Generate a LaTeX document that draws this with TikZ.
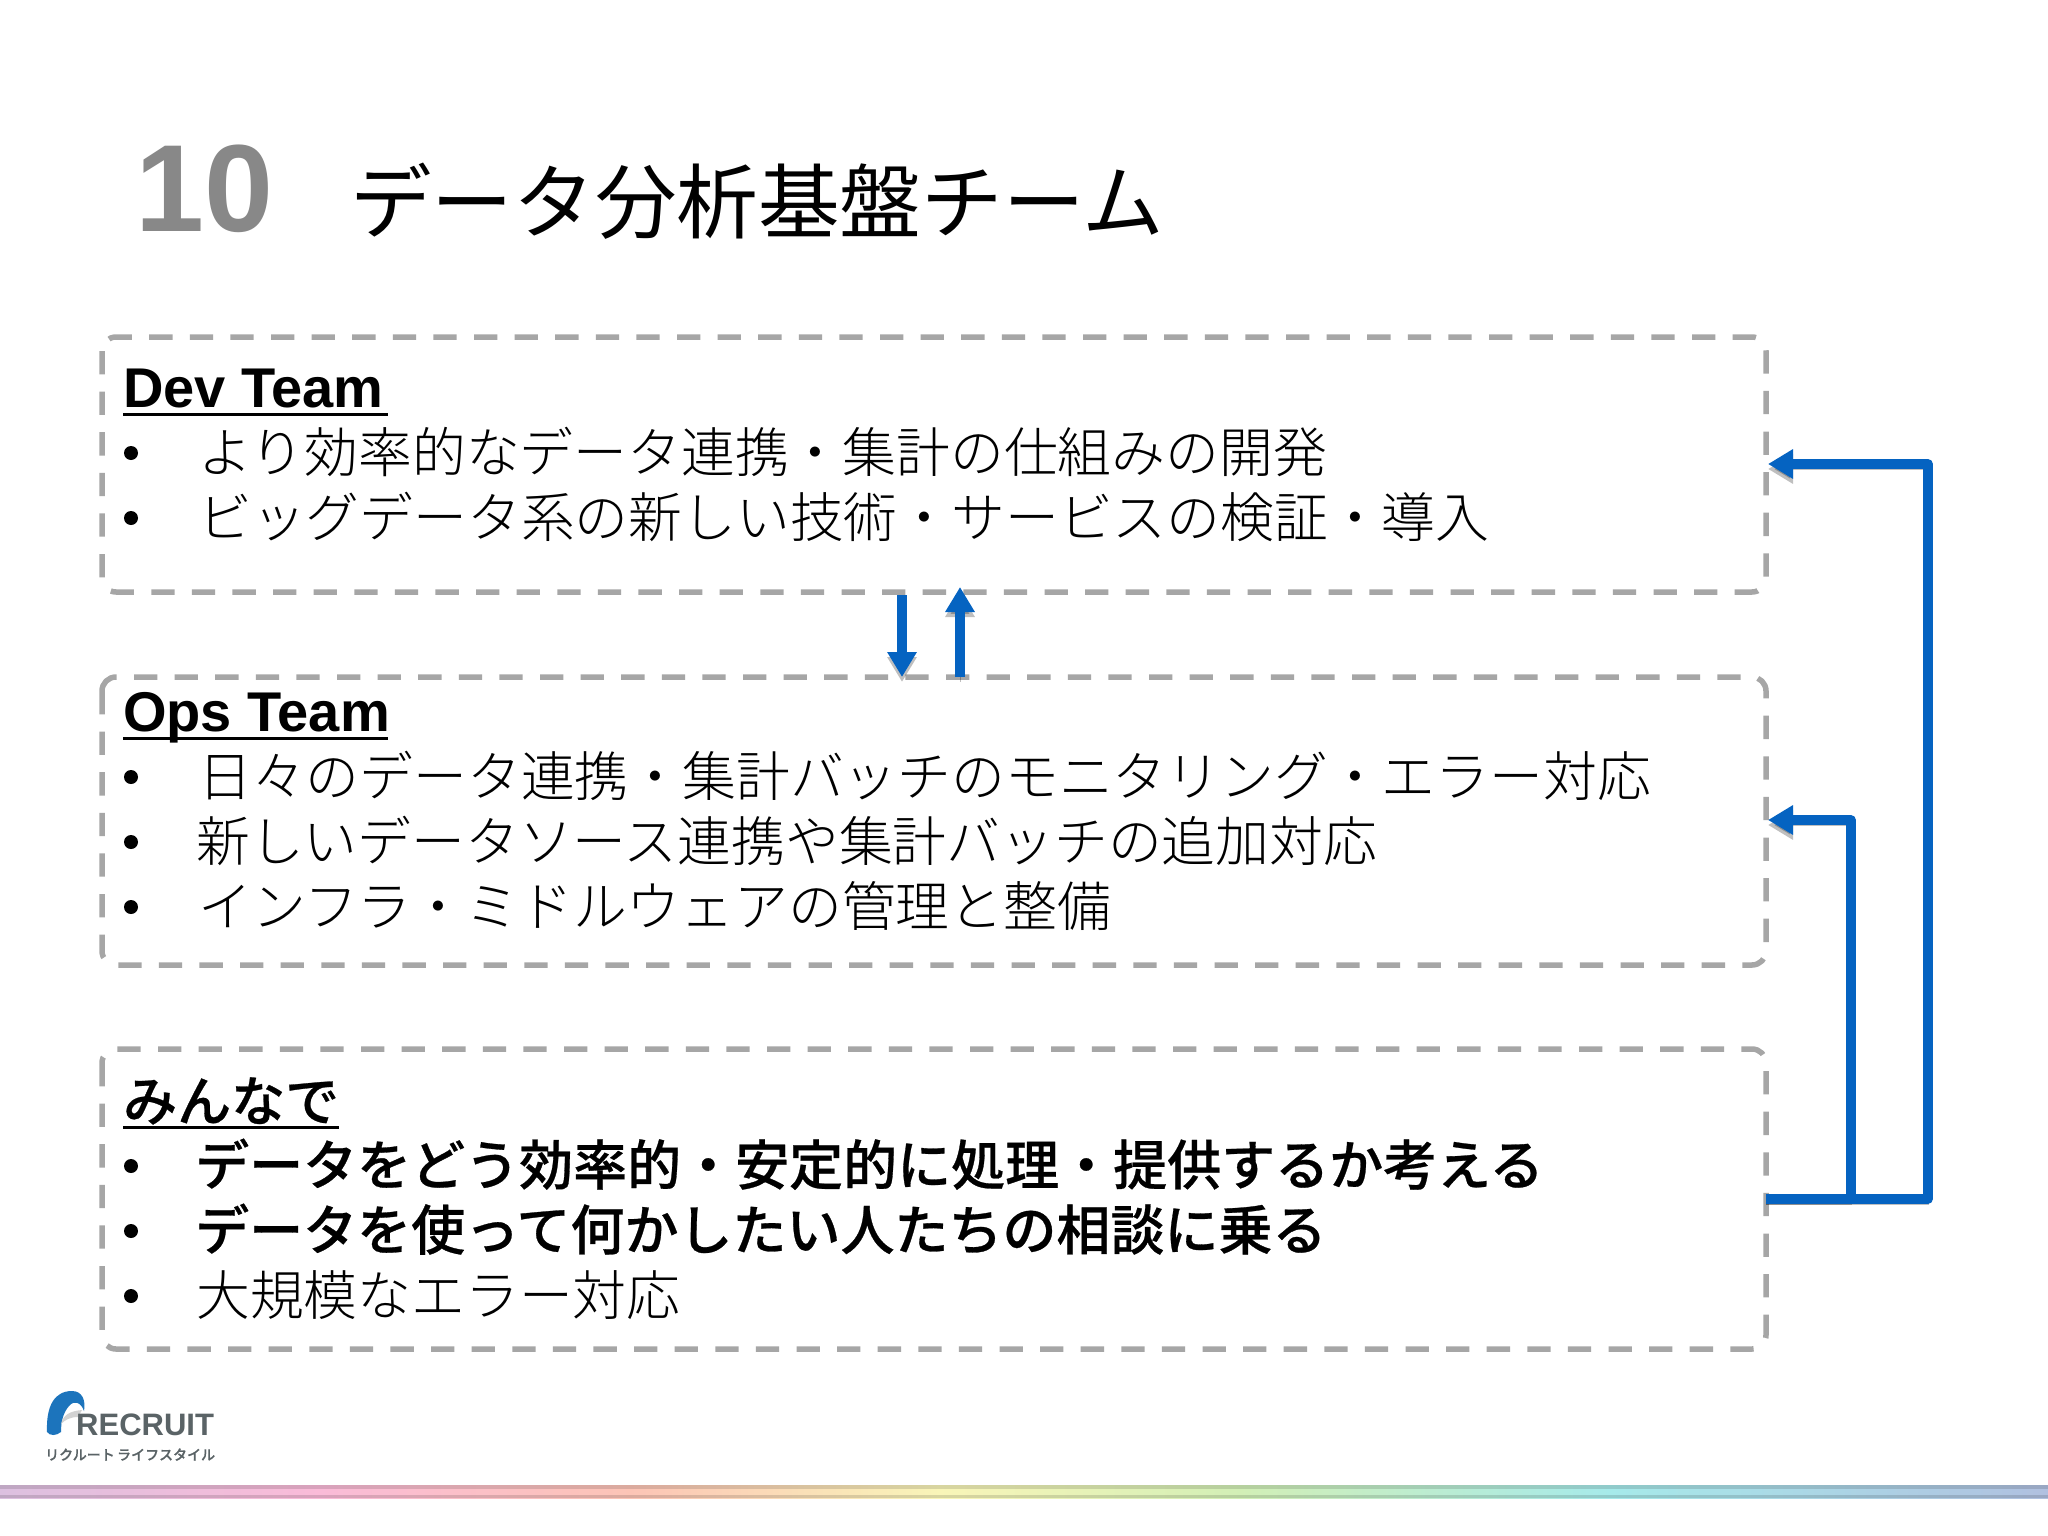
\documentclass[tikz,border=0pt]{standalone}
\usepackage{fontspec}
\setmainfont{Noto Sans CJK JP}
\newfontfamily\jpl{Noto Sans CJK JP Light}
\newfontfamily\jpm[FakeBold=0.5]{Noto Sans CJK JP Medium}
\newfontfamily\numf{Liberation Sans}
\usetikzlibrary{arrows.meta}
\definecolor{dashgray}{HTML}{A6A6A6}
\definecolor{arrowblue}{HTML}{0563C1}
\definecolor{logoblue}{HTML}{1C74BC}
\definecolor{logogray}{HTML}{5A6366}
\definecolor{numgray}{HTML}{888888}
\definecolor{ba}{HTML}{DCC0E0}
\definecolor{bb}{HTML}{FABBD8}
\definecolor{bc}{HTML}{FCC4B6}
\definecolor{bd}{HTML}{F9F5B8}
\definecolor{be}{HTML}{D2EFB6}
\definecolor{bf}{HTML}{A6EAEA}
\definecolor{bg}{HTML}{B0C0E0}
\tikzset{
  x=1pt,y=-1pt,
  teambox/.style={draw=dashgray,line width=5.5pt,rounded corners=14pt,dash pattern=on 23.3pt off 17.3pt},
  link/.style={draw=arrowblue,line width=9.5pt,line join=round,-{Triangle[length=25pt,width=28pt]},
    preaction={draw=black,opacity=.25,transform canvas={yshift=-5pt}}},
  head/.style={anchor=base west,inner sep=0pt,font=\numf\bfseries\fontsize{56}{60}\selectfont},
  headj/.style={anchor=base west,inner sep=0pt,font=\jpm\fontsize{54}{60}\selectfont},
  rule/.style={draw=black,line width=3pt},
  line/.style={anchor=base west,inner sep=0pt,font=\jpl\fontsize{53.8}{60}\selectfont},
  bline/.style={anchor=base west,inner sep=0pt,font=\jpm\fontsize{54}{60}\selectfont},
  bul/.style={anchor=center,inner sep=0pt,circle,fill=black,minimum size=14pt},
  strip/.style={black,opacity=.13},
}
\begin{document}
\begin{tikzpicture}
\useasboundingbox (0,0) rectangle (2048,1536);
\fill[white] (0,0) rectangle (2048,1536);
% title
\node[anchor=base west,inner sep=0pt,text=numgray,font=\numf\bfseries\fontsize{124}{130}\selectfont] (num) at (135,231) {10};
\node[anchor=base west,inner sep=0pt,font=\fontsize{81.6}{90}\selectfont] (title) at (350,232) {データ分析基盤チーム};
% boxes
\draw[teambox] (102,337) rectangle (1766,592);
\draw[teambox] (102,677) rectangle (1766,965);
\draw[teambox] (102,1049) rectangle (1766,1349);
\coordinate (dev) at (1768,464);
\coordinate (ops) at (1768,820);
\coordinate (all) at (1766,1199);
\coordinate (devb) at (902,595);
\coordinate (opst) at (902,677);
\coordinate (opsu) at (960,677);
\coordinate (devu) at (960,587);
% Dev
\node[head] (h1) at (123,407) {Dev Team};
\draw[rule] (h1.base west |- 0,414) -- ([xshift=4pt]h1.base east |- 0,414);
\node[bul] (b11) at (131,453) {};
\node[line] (t11) at (198,472) {より効率的なデータ連携・集計の仕組みの開発};
\node[bul] (b12) at (131,518) {};
\node[line] (t12) at (198,537) {ビッグデータ系の新しい技術・サービスの検証・導入};
% Ops
\node[head] (h2) at (123,731) {Ops Team};
\draw[rule] (h2.base west |- 0,738) -- ([xshift=-2pt]h2.base east |- 0,738);
\node[bul] (b21) at (131,777) {};
\node[line] (t21) at (198,796) {日々のデータ連携・集計バッチのモニタリング・エラー対応};
\node[bul] (b22) at (131,842) {};
\node[line] (t22) at (196,861) {新しいデータソース連携や集計バッチの追加対応};
\node[bul] (b23) at (131,907) {};
\node[line] (t23) at (198,926) {インフラ・ミドルウェアの管理と整備};
% All
\node[headj] (h3) at (123,1121) {みんなで};
\draw[rule] (h3.base west |- 0,1127) -- (h3.base east |- 0,1127);
\node[bul] (b31) at (131,1166) {};
\node[bline] (t31) at (195,1185) {データをどう効率的・安定的に処理・提供するか考える};
\node[bul] (b32) at (131,1231) {};
\node[bline] (t32) at (195,1250) {データを使って何かしたい人たちの相談に乗る};
\node[bul] (b33) at (131,1296) {};
\node[line] (t33) at (196,1315) {大規模なエラー対応};
% connectors
\draw[link] (devb) -- (opst);
\draw[link] (opsu) -- (devu);
\draw[link] (all) -| (1851,820) -- (ops);
\draw[link] (all) -| (1928,464) -- (dev);
% logo
\fill[logoblue] (47,1432) .. controls (46,1405) and (55,1391) .. (72,1391)
  .. controls (82,1391) and (86,1400) .. (84,1411)
  .. controls (81,1402) and (74,1400) .. (69,1406)
  .. controls (63,1413) and (61,1422) .. (61,1432)
  .. controls (56,1436) and (50,1436) .. (47,1432) -- cycle;
\fill[gray!35] (61,1424) .. controls (63,1415) and (70,1411) .. (82,1410)
  -- (78,1417) .. controls (70,1417) and (65,1420) .. (61,1424) -- cycle;
\node[anchor=base west,inner sep=0pt,text=logogray,font=\numf\bfseries\fontsize{31}{33}\selectfont] (logo1) at (76,1435) {RECRUIT};
\node[anchor=base west,inner sep=0pt,text=logogray,font=\jpm\fontsize{14}{16}\selectfont] (logo2) at (45,1460) {リクルート\,ライフスタイル};
% bar
\shade[left color=ba,right color=bb] (0,1485) rectangle (320,1498);
\shade[left color=bb,right color=bc] (320,1485) rectangle (630,1498);
\shade[left color=bc,right color=bd] (630,1485) rectangle (940,1498);
\shade[left color=bd,right color=be] (940,1485) rectangle (1240,1498);
\shade[left color=be,right color=bf] (1240,1485) rectangle (1610,1498);
\shade[left color=bf,right color=bg] (1610,1485) rectangle (2048,1498);
\fill[strip] (0,1485) rectangle (2048,1489);
\fill[strip] (0,1495) rectangle (2048,1498);
\end{tikzpicture}
\end{document}
